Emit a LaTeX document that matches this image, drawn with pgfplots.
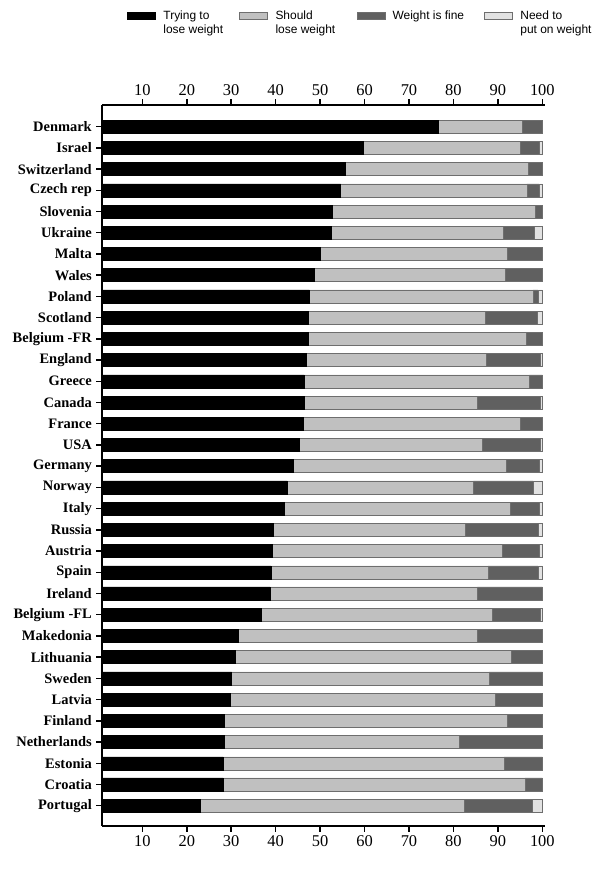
\documentclass[border=0pt]{standalone}
\usepackage{pgfplots}
\pgfplotsset{compat=1.18}
\usepackage{pgfplotstable}
\usepackage{fontspec}
\setmainfont{Liberation Serif}
\newfontfamily\legendfont{Liberation Sans}
\definecolor{cA}{RGB}{0,0,0}
\definecolor{cB}{RGB}{192,192,192}
\definecolor{cC}{RGB}{96,96,96}
\definecolor{cD}{RGB}{226,226,226}
\definecolor{edge}{RGB}{110,110,110}

\pgfplotstableread{
y a b c d
32 76.5 19.0 4.5 0
31 59.6 35.5 4.2 0.7
30 55.6 41.2 3.2 0
29 54.6 41.9 2.7 0.8
28 52.7 45.7 1.6 0
27 52.5 38.7 7.0 1.8
26 50.0 42.1 7.9 0
25 48.6 43.0 8.4 0
24 47.6 50.3 1.1 1.0
23 47.4 39.8 11.6 1.2
22 47.3 49.0 3.7 0
21 46.8 40.5 12.2 0.5
20 46.4 50.7 2.9 0
19 46.4 38.9 14.2 0.5
18 46.1 48.9 5.0 0
17 45.2 41.2 13.1 0.5
16 44.0 47.8 7.5 0.7
15 42.6 41.9 13.4 2.1
14 42.0 50.8 6.6 0.6
13 39.4 43.3 16.3 1.0
12 39.3 51.7 8.3 0.7
11 38.9 48.9 11.2 1.0
10 38.7 46.7 14.6 0
9 36.7 52.0 10.8 0.5
8 31.5 53.9 14.6 0
7 31.0 62.0 7.0 0
6 30.1 57.9 12.0 0
5 29.7 59.6 10.7 0
4 28.4 63.6 8.0 0
3 28.4 53.0 18.6 0
2 28.2 63.2 8.6 0
1 28.2 67.9 3.9 0
0 23.1 59.3 15.4 2.2
}\data

\pgfplotsset{
  lgd/.style={legend image code/.code={\draw[##1, line width=0.5bp] (0bp,0.7bp) rectangle (28bp,7.3bp);}},
}

\begin{document}
\begin{tikzpicture}
\useasboundingbox (0,0) rectangle (600bp,870bp);
\begin{axis}[
  at={(102.3bp,44bp)}, anchor=south west,
  scale only axis, width=442.7bp, height=721bp,
  xmin=1, xmax=100.6, ymin=-0.957, ymax=33.02,
  xbar stacked, bar width=13bp,
  axis x line*=box, axis y line*=left,
  axis line style={line width=1.6bp, -},
  axis on top,
  major tick length=0pt,
  xtick style={draw=none}, ytick style={draw=none},
  xtick={10,20,...,100}, xticklabel pos=lower,
  ytick={0,...,32},
  yticklabels={Portugal,Croatia,Estonia,Netherlands,Finland,Latvia,Sweden,Lithuania,Makedonia,Belgium -FL,Ireland,Spain,Austria,Russia,Italy,Norway,Germany,USA,France,Canada,Greece,England,Belgium -FR,Scotland,Poland,Wales,Malta,Ukraine,Slovenia,Czech rep,Switzerland,Israel,Denmark},
  /pgf/number format/assume math mode=true,
  xticklabel style={font=\fontsize{16.5}{18}\selectfont, yshift=-6bp},
  yticklabel style={font=\bfseries\fontsize{14.5}{16}\selectfont, xshift=-7bp},
  extra description/.code={
    \foreach \xv in {10,20,30,40,50,60,70,80,90,100} {
      \pgfmathsetmacro\rr{(\xv-1)/99.6}
      \draw[line width=1.5bp, black] (rel axis cs:\rr,0) -- ++(0,-6bp);
      \draw[line width=1.5bp, black] (rel axis cs:\rr,1) -- ++(0,6bp);
    }
    \foreach \w in {0,...,32} {
      \draw[line width=1.4bp] (axis cs:1,\w) -- ++(-6bp,0);
    }
  },
  legend columns=4,
  legend style={draw=none, fill=none, at={(0.0565,1.1308)}, anchor=north west,
    font=\legendfont\fontsize{12}{13.3}\selectfont,
    inner sep=0pt, outer sep=0pt, column sep=0pt,
    nodes={inner sep=0pt, anchor=base west},
    /tikz/every odd column/.append style={column sep=7.6bp}},
]
\addplot[lgd, fill=cA, draw=black, line width=0.5bp] table[x=a, y=y]{\data};
\addplot[lgd, fill=cB, draw=edge, line width=0.5bp] table[x=b, y=y]{\data};
\addplot[lgd, fill=cC, draw=edge, line width=0.5bp] table[x=c, y=y]{\data};
\addplot[lgd, fill=cD, draw=edge, line width=0.5bp] table[x=d, y=y]{\data};
\legend{\makebox[76bp][l]{\begin{tabular}[t]{@{}l@{}}Trying to\\lose weight\end{tabular}},
        \makebox[81bp][l]{\begin{tabular}[t]{@{}l@{}}Should\\lose weight\end{tabular}},
        \makebox[91.7bp][l]{\begin{tabular}[t]{@{}l@{}}Weight is fine\end{tabular}},
        \makebox[80bp][l]{\begin{tabular}[t]{@{}l@{}}Need to\\put on weight\end{tabular}}}
\end{axis}
\begin{axis}[
  at={(102.3bp,44bp)}, anchor=south west,
  scale only axis, width=442.7bp, height=721bp,
  xmin=1, xmax=100.6, ymin=-0.957, ymax=33.02,
  axis x line*=top, axis y line=none,
  x axis line style={draw=none},
  major tick length=0pt,
  xtick={10,20,...,100}, ytick=\empty,
  xtick style={draw=none},
  /pgf/number format/assume math mode=true,
  xticklabel style={font=\fontsize{16.5}{18}\selectfont, yshift=6bp},
]
\addplot[draw=none, forget plot] coordinates {(50,0)};
\end{axis}
\end{tikzpicture}
\end{document}
